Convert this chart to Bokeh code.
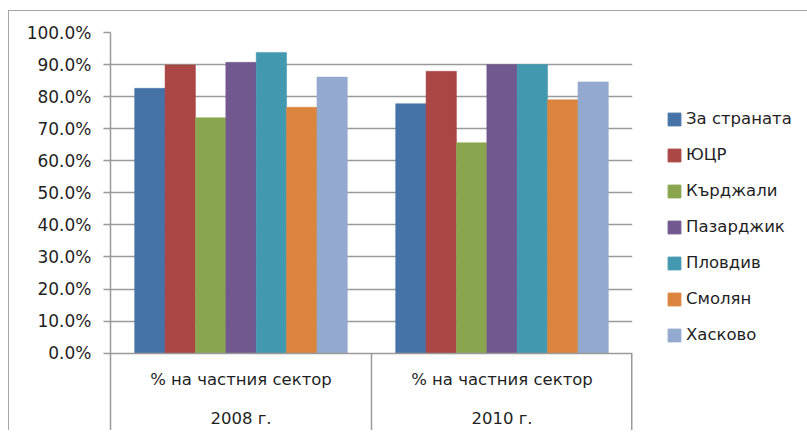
from bokeh.plotting import figure
from bokeh.layouts import row
from bokeh.models import (FactorRange, Range1d, FixedTicker, NumeralTickFormatter,
                          Legend, LegendItem, ColumnDataSource)
from bokeh.transform import dodge
from bokeh.embed import file_html
from bokeh.resources import INLINE

# ---------------- data ----------------
years = ["2008 г.", "2010 г."]
group_label = "% на частния сектор"
series_names = ["За страната", "ЮЦР", "Кърджали", "Пазарджик", "Пловдив", "Смолян", "Хасково"]
za_stranata = [0.826, 0.778]
yucr = [0.899, 0.879]
kardzhali = [0.734, 0.656]
pazardzhik = [0.907, 0.900]
plovdiv = [0.938, 0.900]
smolyan = [0.767, 0.790]
haskovo = [0.861, 0.846]
y_ticks = [0.0, 0.1, 0.2, 0.3, 0.4, 0.5, 0.6, 0.7, 0.8, 0.9, 1.0]
grid_ticks = [0.1, 0.2, 0.3, 0.4, 0.5, 0.6, 0.7, 0.8, 0.9, 1.0]
colors = ["#4572A7", "#AA4643", "#89A54E", "#71588F", "#4198AF", "#DB843D", "#93A9CF"]

series_values = [za_stranata, yucr, kardzhali, pazardzhik, plovdiv, smolyan, haskovo]

FONT = "DejaVu Sans"
FS = "16.5px"
TEXT_COLOR = "#1f1f1f"
LINE_COLOR = "#9a9a9a"

y_bottom = -0.241

factors = [(y, group_label) for y in years]
src = {"cat": factors}
for i, vals in enumerate(series_values):
    src[f"s{i}"] = vals
source = ColumnDataSource(src)

fig = figure(width=625, height=419, output_backend="svg", toolbar_location=None,
             x_range=FactorRange(factors=factors, range_padding=0, group_padding=0),
             y_range=Range1d(y_bottom, 1.0),
             min_border_left=101, min_border_right=2, min_border_top=21, min_border_bottom=0)
fig.outline_line_color = None
fig.background_fill_color = "white"
fig.border_fill_color = "white"

bar_w = 0.1164
for i, name in enumerate(series_names):
    fig.vbar(x=dodge("cat", (i - 3) * bar_w, range=fig.x_range), top=f"s{i}", bottom=0,
             width=bar_w, source=source, fill_color=colors[i], line_color=colors[i],
             line_width=0.5)

# separators below the category axis
sep_x = [(years[1], group_label, -0.5), (years[1], group_label, 0.5)]
fig.segment(x0=sep_x, x1=sep_x, y0=[0, 0], y1=[y_bottom, y_bottom],
            line_color=LINE_COLOR, line_width=[1.5, 3])

# y axis
yax = fig.yaxis[0]
yax.ticker = FixedTicker(ticks=y_ticks)
yax.formatter = NumeralTickFormatter(format="0.0%")
yax.axis_line_color = LINE_COLOR
yax.axis_line_width = 1.5
yax.major_tick_line_color = LINE_COLOR
yax.major_tick_line_width = 1.5
yax.major_tick_out = 7
yax.major_tick_in = 0
yax.minor_tick_line_color = None
yax.major_label_standoff = 12
yax.major_label_text_font = FONT
yax.major_label_text_font_size = "17px"
yax.major_label_text_color = TEXT_COLOR

# x axis (category axis at y = 0)
xax = fig.xaxis[0]
xax.fixed_location = 0
xax.axis_line_color = LINE_COLOR
xax.axis_line_width = 1.5
xax.major_tick_line_color = None
xax.major_tick_out = 0
xax.major_tick_in = 0
xax.minor_tick_line_color = None
xax.separator_line_color = None
xax.major_label_standoff = 17
xax.major_label_text_font = FONT
xax.major_label_text_font_size = FS
xax.major_label_text_color = TEXT_COLOR
xax.group_text_font = FONT
xax.group_text_font_size = FS
xax.group_text_color = TEXT_COLOR
xax.group_text_font_style = "normal"

fig.xgrid.grid_line_color = None
fig.ygrid.ticker = FixedTicker(ticks=grid_ticks)
fig.ygrid.grid_line_color = LINE_COLOR
fig.ygrid.grid_line_width = 1.5

# legend panel (separate canvas so that the legend is not clipped);
# its bars use the same data but lie outside its visible y range
leg_fig = figure(width=173, height=419, output_backend="svg", toolbar_location=None,
                 x_axis_type=None, y_axis_type=None,
                 x_range=FactorRange(factors=factors, range_padding=0, group_padding=0),
                 y_range=Range1d(5, 6),
                 min_border=0)
leg_fig.outline_line_color = None
leg_fig.grid.grid_line_color = None
leg_fig.background_fill_color = "white"
leg_fig.border_fill_color = "white"
leg_renderers = [leg_fig.vbar(x=dodge("cat", (i - 3) * bar_w, range=leg_fig.x_range),
                              top=f"s{i}", bottom=0, width=bar_w, source=source,
                              fill_color=c, line_color=c)
                 for i, c in enumerate(colors)]
legend = Legend(items=[LegendItem(label=n, renderers=[r]) for n, r in zip(series_names, leg_renderers)],
                location=(32, 86), orientation="vertical",
                label_text_font=FONT, label_text_font_size=FS, label_text_color=TEXT_COLOR,
                glyph_width=16, glyph_height=16, label_standoff=4, spacing=17,
                padding=0, margin=0, border_line_color=None, background_fill_alpha=0,
                label_height=13)
leg_fig.add_layout(legend, "center")

p = row(fig, leg_fig, spacing=0,
        styles={"margin-left": "8px", "margin-top": "10px",
                "border-left": "1px solid #a6a6a6", "border-top": "1px solid #a6a6a6",
                "border-right": "0px none", "border-bottom": "0px none",
                "overflow": "hidden"})

open("out.html", "w").write(file_html(p, INLINE))
